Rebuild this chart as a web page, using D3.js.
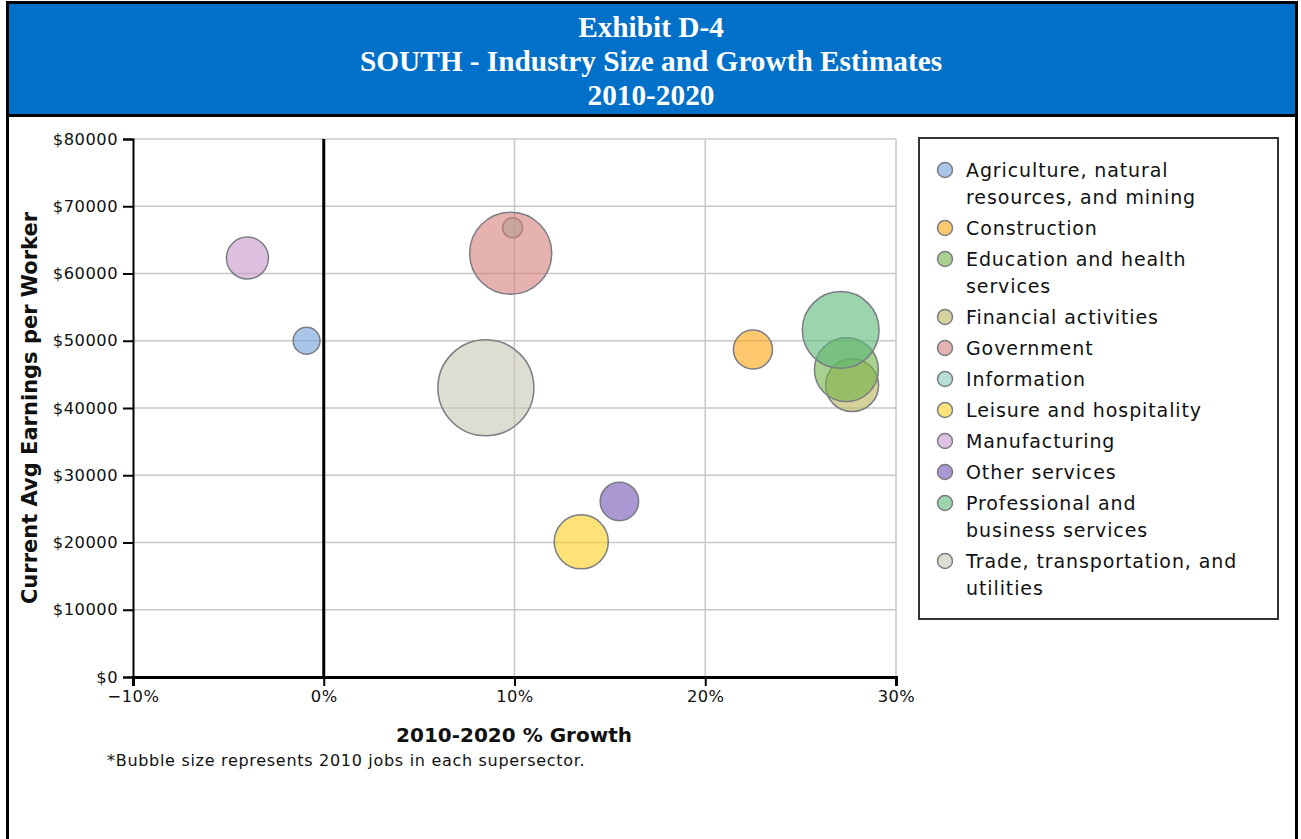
<!DOCTYPE html>
<html>
<head>
<meta charset="utf-8">
<script src="https://cdn.jsdelivr.net/npm/d3@7"></script>
<style>
  html, body { margin: 0; padding: 0; background: #fff; }
  svg { display: block; }
</style>
</head>
<body>
<svg id="chart" width="1301" height="839"></svg>
<script>
// ---- data ----
const titleLines = ["Exhibit D-4", "SOUTH - Industry Size and Growth Estimates", "2010-2020"];
const categories = [
  "Agriculture, natural resources, and mining",
  "Construction",
  "Education and health services",
  "Financial activities",
  "Government",
  "Information",
  "Leisure and hospitality",
  "Manufacturing",
  "Other services",
  "Professional and business services",
  "Trade, transportation, and utilities"
];
const legendLabels = [
  ["Agriculture, natural", "resources, and mining"],
  ["Construction"],
  ["Education and health", "services"],
  ["Financial activities"],
  ["Government"],
  ["Information"],
  ["Leisure and hospitality"],
  ["Manufacturing"],
  ["Other services"],
  ["Professional and", "business services"],
  ["Trade, transportation, and", "utilities"]
];
const growthPct = [-0.9, 22.5, 27.4, 27.7, 9.8, 9.9, 13.5, -4.0, 15.5, 27.1, 8.5];
const avgEarnings = [50000, 48700, 45700, 43400, 63000, 66800, 20100, 62300, 26100, 51600, 43000];
const jobs2010 = [18, 38, 102, 70, 168, 10, 73, 44, 37, 147, 230];   // thousands (estimated)
const colors = ["#70a0d9", "#fca30d", "#6eb143", "#b9b658", "#d47f7a", "#87cabb",
                "#fccf1e", "#c896cb", "#7153b4", "#58b776", "#c6c6b2"];
const xTicks = [-10, 0, 10, 20, 30];
const yTicks = [0, 10000, 20000, 30000, 40000, 50000, 60000, 70000, 80000];
const xTitle = "2010-2020 % Growth";
const yTitle = "Current Avg Earnings per Worker";
const footnote = "*Bubble size represents 2010 jobs in each supersector.";

// ---- drawing ----
const svg = d3.select("#chart");

// outer frame & title band
svg.append("rect").attr("x", 7.5).attr("y", 2.5).attr("width", 1289).attr("height", 845)
  .attr("fill", "none").attr("stroke", "#000").attr("stroke-width", 3);
svg.append("rect").attr("x", 9).attr("y", 4).attr("width", 1286).attr("height", 110).attr("fill", "#0070c8");
svg.append("line").attr("x1", 6).attr("x2", 1298).attr("y1", 115.5).attr("y2", 115.5)
  .attr("stroke", "#000").attr("stroke-width", 3);
svg.append("g").selectAll("text").data(titleLines).join("text")
  .attr("x", 651).attr("y", (d, i) => 37 + i * 34)
  .attr("text-anchor", "middle")
  .attr("font-family", "'Liberation Serif', 'Times New Roman', serif")
  .attr("font-weight", "bold").attr("font-size", 29.3).attr("fill", "#fff")
  .text(d => d);

const x = d3.scaleLinear().domain([-10, 30]).range([133, 896]);
const y = d3.scaleLinear().domain([0, 80000]).range([677, 139]);
const r = d3.scaleSqrt().domain([0, 230]).range([0, 48]);

// gridlines
const grid = svg.append("g");
grid.selectAll("line.h").data(yTicks.filter(d => d > 0)).join("line")
  .attr("x1", x(-10)).attr("x2", x(30)).attr("y1", d => y(d)).attr("y2", d => y(d))
  .attr("stroke", "#c8c8c8").attr("stroke-width", 1.5);
grid.selectAll("line.v").data(xTicks.filter(d => d > 0)).join("line")
  .attr("x1", d => x(d)).attr("x2", d => x(d)).attr("y1", y(0)).attr("y2", y(80000))
  .attr("stroke", "#c8c8c8").attr("stroke-width", 1.5);

// zero line
svg.append("line").attr("x1", x(0)).attr("x2", x(0)).attr("y1", y(0)).attr("y2", y(80000))
  .attr("stroke", "#000").attr("stroke-width", 3);

// bubbles (largest on top)
const pts = categories.map((c, i) => ({c, i, gx: growthPct[i], e: avgEarnings[i], j: jobs2010[i], col: colors[i]}))
  .sort((a, b) => a.j - b.j);
svg.append("g").selectAll("circle").data(pts).join("circle")
  .attr("cx", d => x(d.gx)).attr("cy", d => y(d.e)).attr("r", d => r(d.j))
  .attr("fill", d => d.col).attr("fill-opacity", 0.6)
  .attr("stroke", "#7a7d84").attr("stroke-width", 1.5);

// axes
const tickFont = "'DejaVu Sans', sans-serif";
const yAxis = svg.append("g").attr("transform", `translate(${x(-10)},0)`)
  .call(d3.axisLeft(y).tickValues(yTicks).tickSize(10).tickPadding(5).tickFormat(d => "$" + d));
const xAxis = svg.append("g").attr("transform", `translate(0,${y(0)})`)
  .call(d3.axisBottom(x).tickValues(xTicks).tickSize(9).tickPadding(4).tickFormat(d => d3.format("")(d).replace("-", "\u2212") + "%"));
[yAxis, xAxis].forEach(a => {
  a.select(".domain").attr("stroke", "#000");
  a.selectAll(".tick line").attr("stroke", "#000").attr("stroke-width", 2);
  a.selectAll(".tick text").attr("font-family", tickFont).attr("font-size", 16.3)
    .attr("letter-spacing", "0.5px").attr("fill", "#111");
});
yAxis.select(".domain").attr("stroke-width", 2);
xAxis.select(".domain").attr("stroke-width", 3);

// axis titles
svg.append("text").attr("transform", `translate(37,${(y(0) + y(80000)) / 2}) rotate(-90)`)
  .attr("text-anchor", "middle").attr("font-family", tickFont).attr("font-weight", "bold")
  .attr("font-size", 21).attr("fill", "#111").text(yTitle);
svg.append("text").attr("x", 514).attr("y", 742)
  .attr("text-anchor", "middle").attr("font-family", tickFont).attr("font-weight", "bold")
  .attr("font-size", 20).attr("fill", "#111").text(xTitle);
svg.append("text").attr("x", 107).attr("y", 766)
  .attr("font-family", tickFont).attr("font-size", 16).attr("letter-spacing", "0.7px")
  .attr("fill", "#111").text(footnote);

// legend
svg.append("rect").attr("x", 919).attr("y", 138).attr("width", 359).attr("height", 481)
  .attr("fill", "#fff").attr("stroke", "#333").attr("stroke-width", 2);
let ly = 170;
const lg = svg.append("g");
legendLabels.forEach((lines, i) => {
  lg.append("circle").attr("cx", 945).attr("cy", ly).attr("r", 7.5)
    .attr("fill", colors[i]).attr("fill-opacity", 0.6).attr("stroke", "#7a7d84").attr("stroke-width", 1.5);
  lines.forEach((t, k) => {
    lg.append("text").attr("x", 966).attr("y", ly + k * 27).attr("dy", "0.36em")
      .attr("font-family", tickFont).attr("font-size", 19).attr("letter-spacing", "0.9px")
      .attr("fill", "#111").text(t);
  });
  ly += (lines.length - 1) * 27 + 31;
});
</script>
</body>
</html>
